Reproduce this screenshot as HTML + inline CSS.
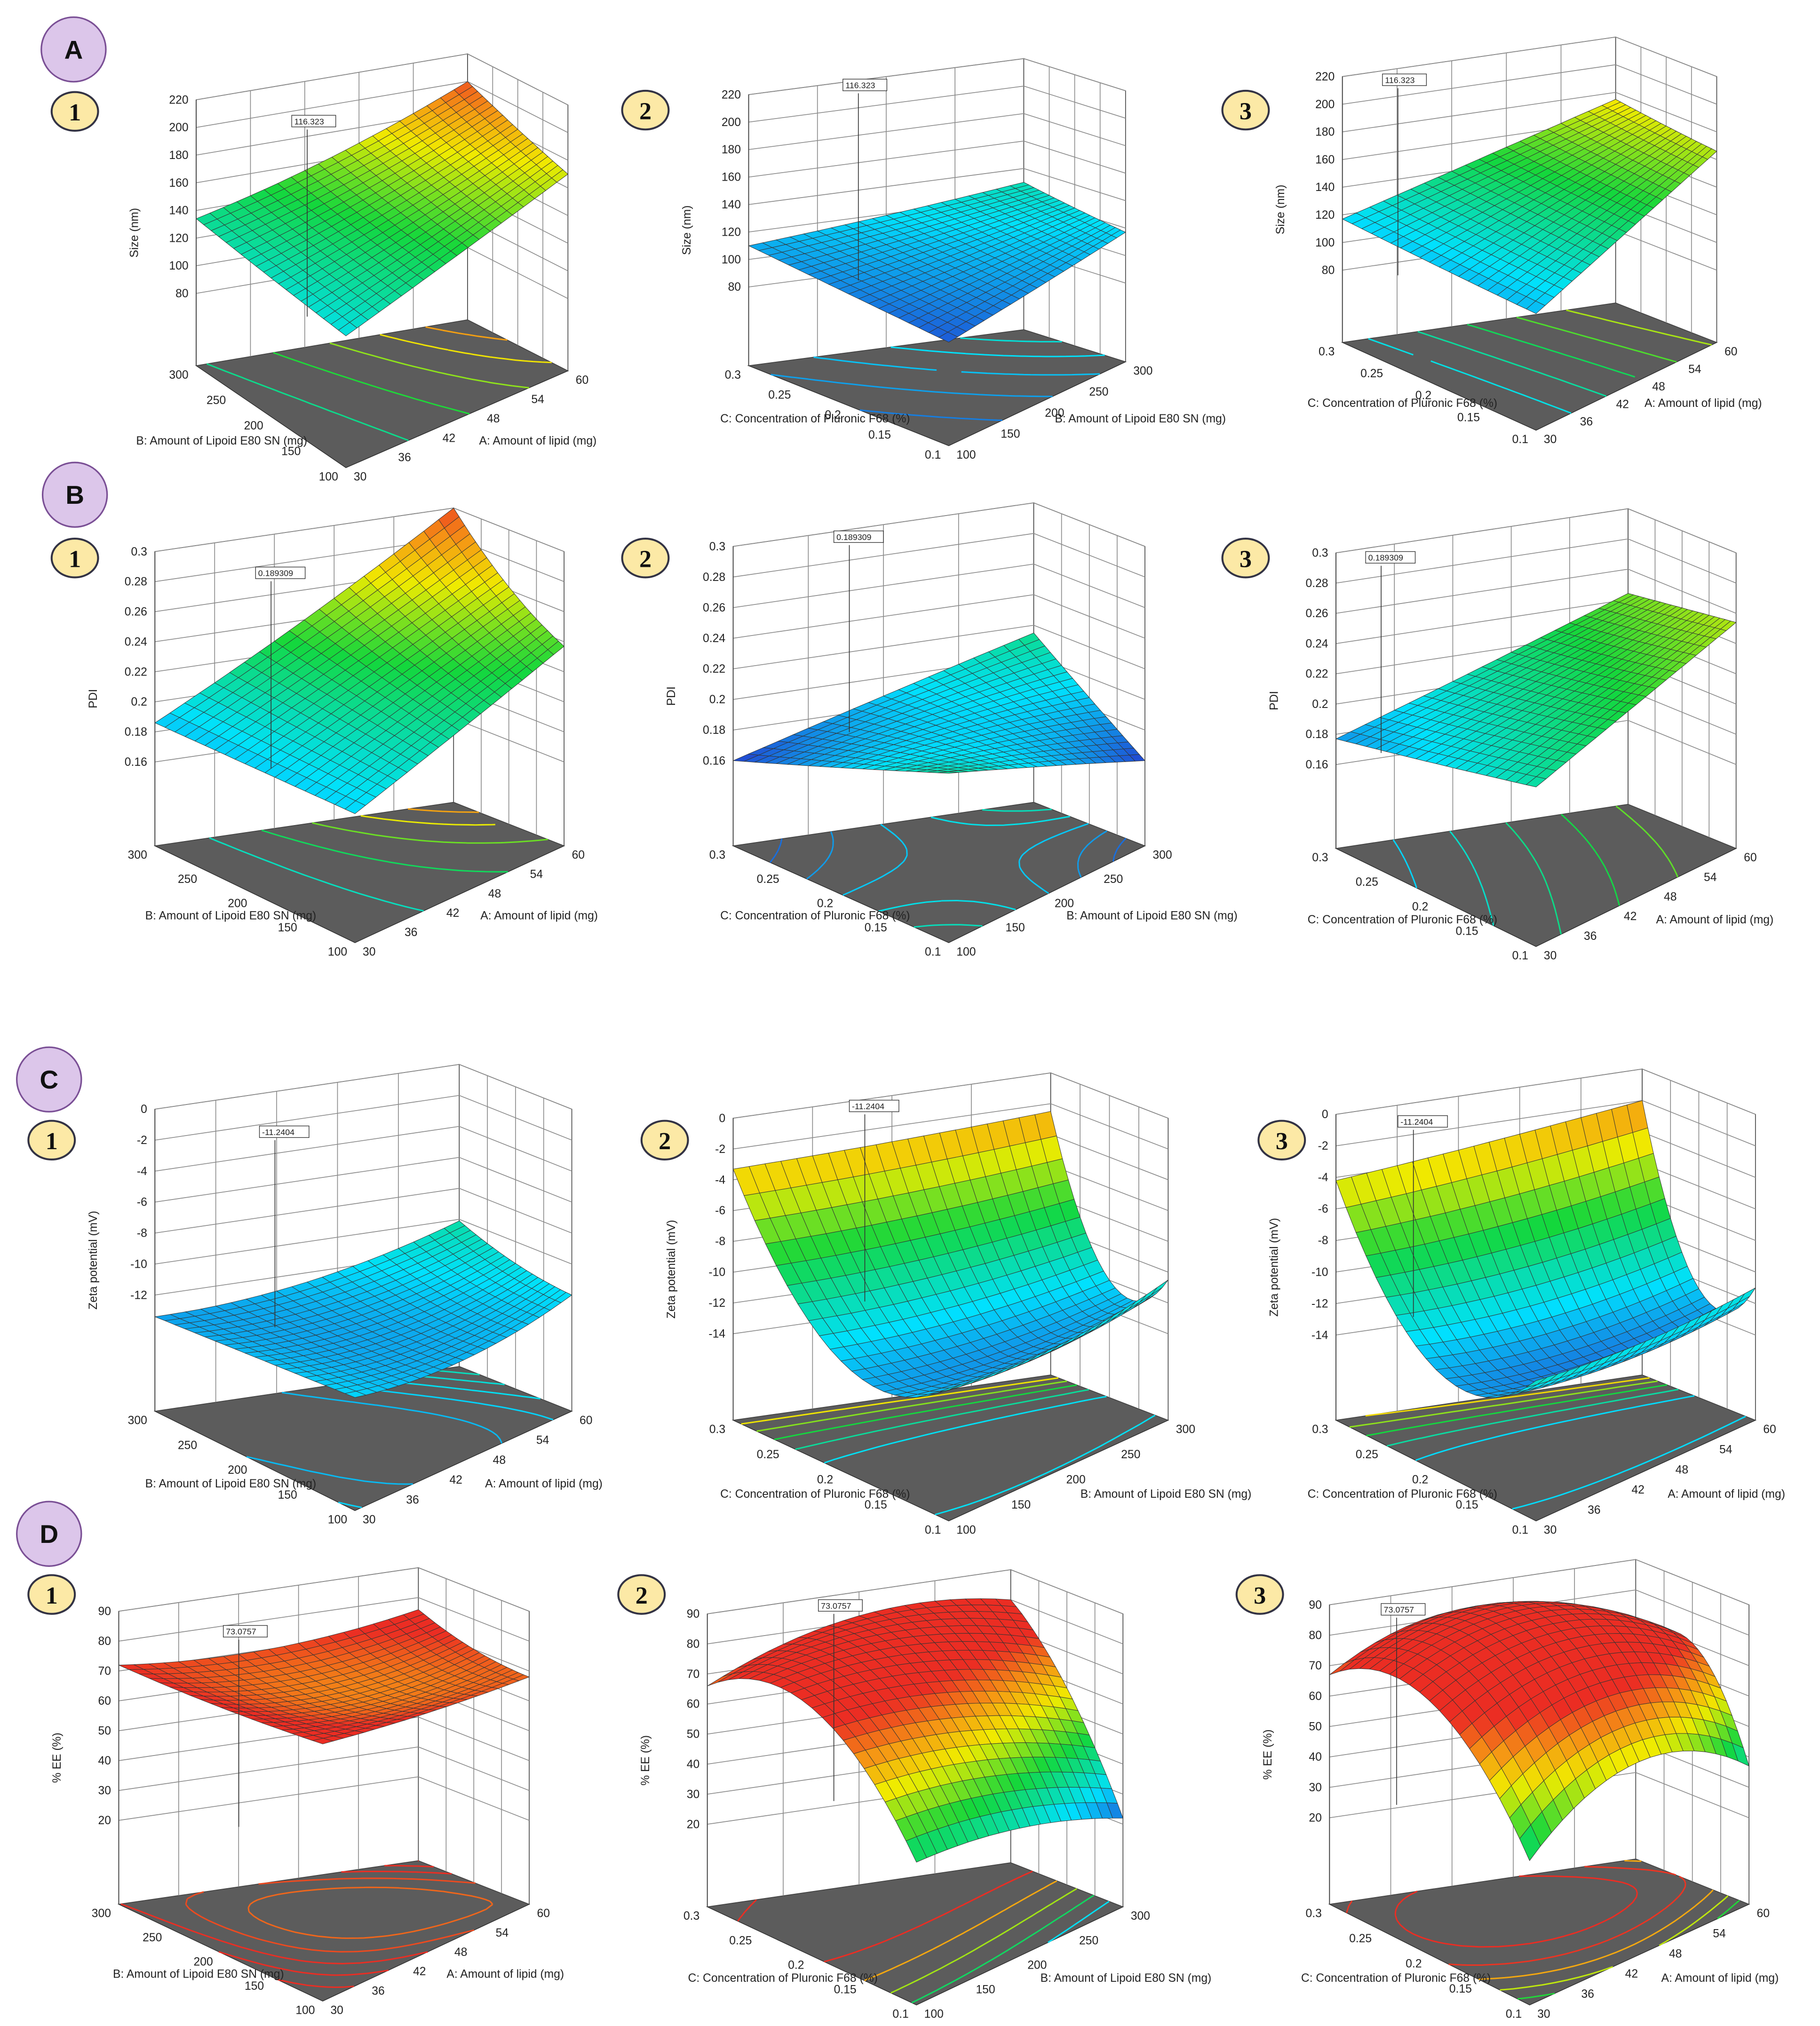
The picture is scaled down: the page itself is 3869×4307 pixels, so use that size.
<!DOCTYPE html>
<html><head><meta charset="utf-8">
<style>
html,body{margin:0;padding:0;background:#fff;}
svg{display:block;font-family:"Liberation Sans",sans-serif;}
</style></head>
<body>
<svg id="fig" width="3869" height="4307" viewBox="0 0 1410 1569" xmlns="http://www.w3.org/2000/svg">
<rect x="0" y="0" width="1410" height="1569" fill="#fff"/>
<g id="plots"></g>
<g id="badges"></g>
</svg>
<script>
// ---- data: 3x3 surface values (rows: back-axis low/mid/high, cols: right-axis low/mid/high)
const sizeA1 = [[123,146,170],[128,153,184],[134,162,200]];
const sizeA2 = [[98,107,117],[104,113,123],[110,119,130]];
const sizeA3 = [[112,139,166],[114,142,170],[117,146,175]];
const pdiB1 = [[0.19,0.213,0.237],[0.188,0.225,0.262],[0.186,0.24,0.30]];
const pdiB2 = [[0.215,0.188,0.16],[0.187,0.19,0.187],[0.16,0.188,0.215]];
const pdiB3 = [[0.21,0.232,0.254],[0.193,0.22,0.249],[0.177,0.21,0.244]];
const zetaC1 = [[-12.2,-13.0,-12.0],[-12.8,-13.2,-11.4],[-13.4,-12.6,-10.1]];
const zetaC2 = [[-11,-11.5,-10.5],[-12.5,-12.8,-12],[-3.3,-3.0,-2.5]];
const zetaC3 = [[-10.5,-11.2,-11],[-13,-13.5,-12.5],[-4.2,-3.2,-2]];
const eeD1 = [[78,72,68],[74,66,70],[72,70,76]];
const eeD2 = [[40,35,22],[75,72,58],[66,82,80]];
const eeD3 = [[39,55,37],[75,86,70],[67,82,60]];
// ---- tick labels
const lipidTicks = [30,36,42,48,54,60];
const lipoidTicks = [100,150,200,250,300];
const pluronicTicks = [0.1,0.15,0.2,0.25,0.3];
const sizeTicks = [80,100,120,140,160,180,200,220];
const pdiTicks = [0.16,0.18,0.2,0.22,0.24,0.26,0.28,0.3];
const zetaTicksC1 = [-12,-10,-8,-6,-4,-2,0];
const zetaTicks = [-14,-12,-10,-8,-6,-4,-2,0];
const eeTicks = [20,30,40,50,60,70,80,90];

const TA="A: Amount of lipid (mg)", TB="B: Amount of Lipoid E80 SN (mg)", TC="C: Concentration of Pluronic F68 (%)";
const panels=[
 {id:'a1',L:[152,283],F:[268,362],R:[440,287],z:sizeA1,zt:sizeTicks,y0:227,y1:77,rt:lipidTicks,lt:lipoidTicks,rT:TA,lT:TB,zT:'Size (nm)',cr:[90,205],flag:'116.323',fx:228,fy:95},
 {id:'a2',L:[580,283],F:[735,345],R:[872,280],z:sizeA2,zt:sizeTicks,y0:222,y1:73,rt:lipoidTicks,lt:pluronicTicks,rT:TB,lT:TC,zT:'Size (nm)',cr:[90,205],flag:'116.323',fx:655,fy:67},
 {id:'a3',L:[1040,265],F:[1190,333],R:[1330,265],z:sizeA3,zt:sizeTicks,y0:209,y1:59,rt:lipidTicks,lt:pluronicTicks,rT:TA,lT:TC,zT:'Size (nm)',cr:[90,205],flag:'116.323',fx:1073,fy:63},
 {id:'b1',L:[120,655],F:[275,730],R:[437,655],z:pdiB1,zt:pdiTicks,y0:590,y1:427,rt:lipidTicks,lt:lipoidTicks,rT:TA,lT:TB,zT:'PDI',cr:[0.155,0.305],flag:'0.189309',fx:200,fy:445},
 {id:'b2',L:[568,655],F:[735,730],R:[887,655],z:pdiB2,zt:pdiTicks,y0:589,y1:423,rt:lipoidTicks,lt:pluronicTicks,rT:TB,lT:TC,zT:'PDI',cr:[0.155,0.305],flag:'0.189309',fx:648,fy:417},
 {id:'b3',L:[1035,657],F:[1190,733],R:[1345,657],z:pdiB3,zt:pdiTicks,y0:592,y1:428,rt:lipidTicks,lt:pluronicTicks,rT:TA,lT:TC,zT:'PDI',cr:[0.155,0.305],flag:'0.189309',fx:1060,fy:433},
 {id:'c1',L:[120,1093],F:[275,1170],R:[443,1093],z:zetaC1,zt:zetaTicksC1,y0:1003,y1:859,rt:lipidTicks,lt:lipoidTicks,rT:TA,lT:TB,zT:'Zeta potential (mV)',cr:[-16,0],flag:'-11.2404',fx:203,fy:878},
 {id:'c2',L:[568,1100],F:[735,1178],R:[905,1100],z:zetaC2,zt:zetaTicks,y0:1033,y1:866,rt:lipoidTicks,lt:pluronicTicks,rT:TB,lT:TC,zT:'Zeta potential (mV)',cr:[-16,0],flag:'-11.2404',fx:660,fy:858},
 {id:'c3',L:[1035,1100],F:[1190,1178],R:[1360,1100],z:zetaC3,zt:zetaTicks,y0:1034,y1:863,rt:lipidTicks,lt:pluronicTicks,rT:TA,lT:TC,zT:'Zeta potential (mV)',cr:[-16,0],flag:'-11.2404',fx:1085,fy:870},
 {id:'d1',L:[92,1475],F:[250,1550],R:[410,1475],z:eeD1,zt:eeTicks,y0:1410,y1:1248,rt:lipidTicks,lt:lipoidTicks,rT:TA,lT:TB,zT:'% EE (%)',cr:[18,72],flag:'73.0757',fx:175,fy:1265},
 {id:'d2',L:[548,1477],F:[710,1553],R:[870,1477],z:eeD2,zt:eeTicks,y0:1413,y1:1250,rt:lipoidTicks,lt:pluronicTicks,rT:TB,lT:TC,zT:'% EE (%)',cr:[18,72],flag:'73.0757',fx:636,fy:1245},
 {id:'d3',L:[1030,1475],F:[1185,1553],R:[1355,1475],z:eeD3,zt:eeTicks,y0:1408,y1:1243,rt:lipidTicks,lt:pluronicTicks,rT:TA,lT:TC,zT:'% EE (%)',cr:[18,72],flag:'73.0757',fx:1072,fy:1248}
];
const NS="http://www.w3.org/2000/svg";
function mk(tag,attrs,parent){const e=document.createElementNS(NS,tag);for(const k in attrs)e.setAttribute(k,attrs[k]);parent.appendChild(e);return e;}
function lag(t,v){const l0=2*(t-0.5)*(t-1),l1=-4*t*(t-1),l2=2*t*(t-0.5);return v[0]*l0+v[1]*l1+v[2]*l2;}
function surf(g,a,b){const r=[lag(a,[g[0][0],g[0][1],g[0][2]]),lag(a,[g[1][0],g[1][1],g[1][2]]),lag(a,[g[2][0],g[2][1],g[2][2]])];return lag(b,r);}
function cmap(t){t=Math.max(0,Math.min(1,t));const s=[[0,40,40,200],[0.25,0,225,255],[0.5,20,215,60],[0.72,240,235,0],[0.86,245,150,20],[1,235,45,35]];
 for(let i=0;i<s.length-1;i++){if(t<=s[i+1][0]){const f=(t-s[i][0])/(s[i+1][0]-s[i][0]);return 'rgb('+[1,2,3].map(j=>Math.round(s[i][j]+f*(s[i+1][j]-s[i][j]))).join(',')+')';}}return 'rgb(235,45,35)';}
const root=document.getElementById('plots');
panels.forEach(p=>{
 const g=mk('g',{},root);
 
 
 const L=p.L,F=p.F,R=p.R;const Bk=[L[0]+0.73*(R[0]-L[0]),L[1]-0.45*(F[1]-L[1])];
 const zt=p.zt,t0=zt[0],t1=zt[zt.length-1];const k=(p.y0-p.y1)/(t1-t0);const zlo=t0-(L[1]-p.y0)/k;
 const zmax=t1;
 function P(a,b){return [F[0]*(1-a)*(1-b)+R[0]*a*(1-b)+L[0]*(1-a)*b+Bk[0]*a*b, F[1]*(1-a)*(1-b)+R[1]*a*(1-b)+L[1]*(1-a)*b+Bk[1]*a*b];}
 function S(a,b,z){const q=P(a,b);return [q[0],q[1]-(z-zlo)*k];}
 const H=(zmax-zlo)*k;
 const fl=mk('polygon',{points:[F,R,Bk,L].map(q=>q.join(',')).join(' '),fill:'#5c5c5c',stroke:'#333','stroke-width':0.6},g);
 
 
 const wall=mk('g',{stroke:'#8a8a8a','stroke-width':0.6,fill:'none'},g);
 
 
 mk('polygon',{points:[L,Bk,[Bk[0],Bk[1]-H],[L[0],L[1]-H]].map(q=>q.join(',')).join(' '),fill:'#fff',stroke:'#444'},wall);
 mk('polygon',{points:[Bk,R,[R[0],R[1]-H],[Bk[0],Bk[1]-H]].map(q=>q.join(',')).join(' '),fill:'#fff',stroke:'#444'},wall);
 zt.forEach(z=>{const h=(z-zlo)*k;mk('polyline',{points:[[L[0],L[1]-h],[Bk[0],Bk[1]-h],[R[0],R[1]-h]].map(q=>q.join(',')).join(' ')},wall);});
 for(let i=1;i<p.rt.length-1;i++){const a=i/(p.rt.length-1);const q=P(a,1);mk('line',{x1:q[0],y1:q[1],x2:q[0],y2:q[1]-H},wall);}
 for(let i=1;i<p.lt.length-1;i++){const b=i/(p.lt.length-1);const q=P(1,b);mk('line',{x1:q[0],y1:q[1],x2:q[0],y2:q[1]-H},wall);}
 const N=24;let vals=[];for(let i=0;i<=N;i++){vals[i]=[];for(let j=0;j<=N;j++)vals[i][j]=surf(p.z,j/N,i/N);}
 let mn=Infinity,mx=-Infinity;vals.forEach(r=>r.forEach(v=>{mn=Math.min(mn,v);mx=Math.max(mx,v);}));
 const cg=mk('g',{'stroke-width':1.1,fill:'none'},g);
 
 
 for(let c=1;c<=5;c++){const lev=mn+(mx-mn)*c/6;const col=cmap((lev-p.cr[0])/(p.cr[1]-p.cr[0]));let d='';
  for(let i=0;i<N;i++)for(let j=0;j<N;j++){const v=[vals[i][j],vals[i][j+1],vals[i+1][j+1],vals[i+1][j]];const pts=[[j,i],[j+1,i],[j+1,i+1],[j,i+1]];const cr=[];
   for(let e=0;e<4;e++){const v1=v[e],v2=v[(e+1)%4];if((v1-lev)*(v2-lev)<0){const f=(lev-v1)/(v2-v1);const a=(pts[e][0]+f*(pts[(e+1)%4][0]-pts[e][0]))/N,b=(pts[e][1]+f*(pts[(e+1)%4][1]-pts[e][1]))/N;cr.push(P(a,b));}}
   for(let s=0;s+1<cr.length;s+=2)d+='M'+cr[s][0].toFixed(1)+','+cr[s][1].toFixed(1)+'L'+cr[s+1][0].toFixed(1)+','+cr[s+1][1].toFixed(1);}
  mk('path',{d:d,stroke:col},cg);}
 const M=20;const quads=[];
 for(let i=0;i<M;i++)for(let j=0;j<M;j++){const a0=j/M,a1=(j+1)/M,b0=i/M,b1=(i+1)/M;
  const zs=[surf(p.z,a0,b0),surf(p.z,a1,b0),surf(p.z,a1,b1),surf(p.z,a0,b1)];
  quads.push({d:(a0+b0),pts:[S(a0,b0,zs[0]),S(a1,b0,zs[1]),S(a1,b1,zs[2]),S(a0,b1,zs[3])],z:(zs[0]+zs[1]+zs[2]+zs[3])/4});}
 quads.sort((u,v)=>v.d-u.d);
 const sg=mk('g',{stroke:'#333','stroke-width':0.35},g);
 
 
 quads.forEach(q=>{mk('polygon',{points:q.pts.map(t=>t[0].toFixed(1)+','+t[1].toFixed(1)).join(' '),fill:cmap((q.z-p.cr[0])/(p.cr[1]-p.cr[0]))},sg);});
 mk('line',{x1:L[0],y1:L[1],x2:L[0],y2:L[1]-H,stroke:'#444','stroke-width':0.7},g);
 const tg=mk('g',{'font-size':9,fill:'#222'},g);
 
 
 zt.forEach(z=>{const y=L[1]-(z-zlo)*k;const t=mk('text',{x:L[0]-6,y:y+3,'text-anchor':'end'},tg);t.textContent=z;});
 const zy=L[1]-H/2;const zl=mk('text',{x:L[0]-45,y:zy,'font-size':9,fill:'#222','text-anchor':'middle',transform:'rotate(-90 '+(L[0]-45)+' '+zy+')'},g);
 zl.textContent=p.zT;
 
 
 const xg=mk('g',{'font-size':9,fill:'#222'},g);
 
 
 p.rt.forEach((v,i)=>{const q=P(i/(p.rt.length-1),0);const t=mk('text',{x:q[0]+6,y:q[1]+10},xg);t.textContent=v;});
 p.lt.forEach((v,i)=>{const q=P(0,i/(p.lt.length-1));const t=mk('text',{x:q[0]-6,y:q[1]+10,'text-anchor':'end'},xg);t.textContent=v;});
 const rl=mk('text',{x:F[0]+(R[0]-F[0])*0.6,y:F[1]-18,'font-size':9,fill:'#222'},g);rl.textContent=p.rT;
 
 
 const ll=mk('text',{x:F[0]-30,y:F[1]-18,'font-size':9,fill:'#222','text-anchor':'end'},g);ll.textContent=p.lT;
 
 
 const fg=mk('g',{},g);
 
 
 mk('line',{x1:p.fx+10,y1:p.fy+5,x2:p.fx+10,y2:p.fy+150,stroke:'#333','stroke-width':0.6},fg);
 mk('rect',{x:p.fx-2,y:p.fy-6,width:p.flag.length*4.3+4,height:9,fill:'#fff',stroke:'#333','stroke-width':0.5},fg);
 const ft=mk('text',{x:p.fx,y:p.fy+1,'font-size':6.5,fill:'#222'},fg);ft.textContent=p.flag;
});
const letterBadges=[['A',57,38],['B',58,383],['C',38,836],['D',38,1188]];
const numBadges=[['1',58,86],['2',500,85],['3',965,85],['1',58,432],['2',500,432],['3',965,432],['1',40,883],['2',515,883],['3',993,883],['1',40,1235],['2',497,1235],['3',976,1235]];
const bg=document.getElementById('badges');
letterBadges.forEach(b=>{const e=mk('g',{},bg);
 
 
 mk('circle',{cx:b[1],cy:b[2],r:25,fill:'#dcc6ea',stroke:'#7a4f95','stroke-width':1.2},e);
 const t=mk('text',{x:b[1],y:b[2]+7,'text-anchor':'middle','font-size':20,'font-weight':'bold',fill:'#111'},e);t.textContent=b[0];});
numBadges.forEach(b=>{const e=mk('g',{},bg);
 
 
 mk('ellipse',{cx:b[1],cy:b[2],rx:18,ry:15,fill:'#fce9a6',stroke:'#334','stroke-width':1.5},e);
 const t=mk('text',{x:b[1],y:b[2]+7,'text-anchor':'middle','font-size':19,'font-weight':'bold','font-family':'Liberation Serif, serif',fill:'#111'},e);t.textContent=b[0];});
</script>
</body></html>
